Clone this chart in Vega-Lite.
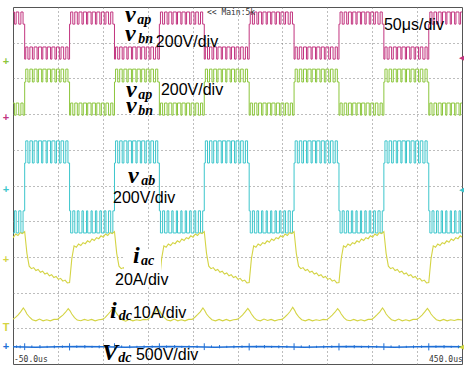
{
"$schema":"https://vega.github.io/schema/vega-lite/v6.json",
"width":449,"height":357,
"autosize":{"type":"none"},
"padding":{"left":13,"top":7,"right":2,"bottom":5},
"background":"white",
"config":{"view":{"stroke":"#555555","strokeWidth":1},"axis":{"labels":false,"ticks":false,"domain":false,"title":null,"grid":true,"gridColor":"#7a7a7a","gridDash":[1,3],"gridWidth":1}},
"datasets":{
"sq":[
{"t":-51.6,"k":"A1"},{"t":-48.4,"k":"A0"},{"t":-46.5,"k":"A1"},{"t":-43.6,"k":"A0"},{"t":-41.2,"k":"A1"},{"t":-38.8,"k":"A0"},
{"t":-37,"k":"B0"},{"t":-35.8,"k":"B1"},{"t":-33.4,"k":"B0"},{"t":-31.2,"k":"B1"},{"t":-28.4,"k":"B0"},{"t":-26.5,"k":"B1"},{"t":-23.2,"k":"B0"},{"t":-21.7,"k":"B1"},{"t":-18.1,"k":"B0"},{"t":-16.8,"k":"B1"},{"t":-13.1,"k":"B0"},{"t":-11.8,"k":"B1"},{"t":-8.2,"k":"B0"},{"t":-6.7,"k":"B1"},{"t":-3.3,"k":"B0"},{"t":-1.6,"k":"B1"},{"t":1.6,"k":"B0"},{"t":3.5,"k":"B1"},{"t":6.4,"k":"B0"},{"t":8.8,"k":"B1"},{"t":11.2,"k":"B0"},
{"t":13,"k":"A0"},{"t":14.2,"k":"A1"},{"t":16.6,"k":"A0"},{"t":18.8,"k":"A1"},{"t":21.6,"k":"A0"},{"t":23.5,"k":"A1"},{"t":26.8,"k":"A0"},{"t":28.3,"k":"A1"},{"t":31.9,"k":"A0"},{"t":33.2,"k":"A1"},{"t":36.9,"k":"A0"},{"t":38.2,"k":"A1"},{"t":41.8,"k":"A0"},{"t":43.3,"k":"A1"},{"t":46.7,"k":"A0"},{"t":48.4,"k":"A1"},{"t":51.6,"k":"A0"},{"t":53.5,"k":"A1"},{"t":56.4,"k":"A0"},{"t":58.8,"k":"A1"},{"t":61.2,"k":"A0"},
{"t":63,"k":"B0"},{"t":64.2,"k":"B1"},{"t":66.6,"k":"B0"},{"t":68.8,"k":"B1"},{"t":71.6,"k":"B0"},{"t":73.5,"k":"B1"},{"t":76.8,"k":"B0"},{"t":78.3,"k":"B1"},{"t":81.9,"k":"B0"},{"t":83.2,"k":"B1"},{"t":86.9,"k":"B0"},{"t":88.2,"k":"B1"},{"t":91.8,"k":"B0"},{"t":93.3,"k":"B1"},{"t":96.7,"k":"B0"},{"t":98.4,"k":"B1"},{"t":101.6,"k":"B0"},{"t":103.5,"k":"B1"},{"t":106.4,"k":"B0"},{"t":108.8,"k":"B1"},{"t":111.2,"k":"B0"},
{"t":113,"k":"A0"},{"t":114.2,"k":"A1"},{"t":116.6,"k":"A0"},{"t":118.8,"k":"A1"},{"t":121.6,"k":"A0"},{"t":123.5,"k":"A1"},{"t":126.8,"k":"A0"},{"t":128.3,"k":"A1"},{"t":131.9,"k":"A0"},{"t":133.2,"k":"A1"},{"t":136.9,"k":"A0"},{"t":138.2,"k":"A1"},{"t":141.8,"k":"A0"},{"t":143.3,"k":"A1"},{"t":146.7,"k":"A0"},{"t":148.4,"k":"A1"},{"t":151.6,"k":"A0"},{"t":153.5,"k":"A1"},{"t":156.4,"k":"A0"},{"t":158.8,"k":"A1"},{"t":161.2,"k":"A0"},
{"t":163,"k":"B0"},{"t":164.2,"k":"B1"},{"t":166.6,"k":"B0"},{"t":168.8,"k":"B1"},{"t":171.6,"k":"B0"},{"t":173.5,"k":"B1"},{"t":176.8,"k":"B0"},{"t":178.3,"k":"B1"},{"t":181.9,"k":"B0"},{"t":183.2,"k":"B1"},{"t":186.9,"k":"B0"},{"t":188.2,"k":"B1"},{"t":191.8,"k":"B0"},{"t":193.3,"k":"B1"},{"t":196.7,"k":"B0"},{"t":198.4,"k":"B1"},{"t":201.6,"k":"B0"},{"t":203.5,"k":"B1"},{"t":206.4,"k":"B0"},{"t":208.8,"k":"B1"},{"t":211.2,"k":"B0"},
{"t":213,"k":"A0"},{"t":214.2,"k":"A1"},{"t":216.6,"k":"A0"},{"t":218.8,"k":"A1"},{"t":221.6,"k":"A0"},{"t":223.5,"k":"A1"},{"t":226.8,"k":"A0"},{"t":228.3,"k":"A1"},{"t":231.9,"k":"A0"},{"t":233.2,"k":"A1"},{"t":236.9,"k":"A0"},{"t":238.2,"k":"A1"},{"t":241.8,"k":"A0"},{"t":243.3,"k":"A1"},{"t":246.7,"k":"A0"},{"t":248.4,"k":"A1"},{"t":251.6,"k":"A0"},{"t":253.5,"k":"A1"},{"t":256.4,"k":"A0"},{"t":258.8,"k":"A1"},{"t":261.2,"k":"A0"},
{"t":263,"k":"B0"},{"t":264.2,"k":"B1"},{"t":266.6,"k":"B0"},{"t":268.8,"k":"B1"},{"t":271.6,"k":"B0"},{"t":273.5,"k":"B1"},{"t":276.8,"k":"B0"},{"t":278.3,"k":"B1"},{"t":281.9,"k":"B0"},{"t":283.2,"k":"B1"},{"t":286.9,"k":"B0"},{"t":288.2,"k":"B1"},{"t":291.8,"k":"B0"},{"t":293.3,"k":"B1"},{"t":296.7,"k":"B0"},{"t":298.4,"k":"B1"},{"t":301.6,"k":"B0"},{"t":303.5,"k":"B1"},{"t":306.4,"k":"B0"},{"t":308.8,"k":"B1"},{"t":311.2,"k":"B0"},
{"t":313,"k":"A0"},{"t":314.2,"k":"A1"},{"t":316.6,"k":"A0"},{"t":318.8,"k":"A1"},{"t":321.6,"k":"A0"},{"t":323.5,"k":"A1"},{"t":326.8,"k":"A0"},{"t":328.3,"k":"A1"},{"t":331.9,"k":"A0"},{"t":333.2,"k":"A1"},{"t":336.9,"k":"A0"},{"t":338.2,"k":"A1"},{"t":341.8,"k":"A0"},{"t":343.3,"k":"A1"},{"t":346.7,"k":"A0"},{"t":348.4,"k":"A1"},{"t":351.6,"k":"A0"},{"t":353.5,"k":"A1"},{"t":356.4,"k":"A0"},{"t":358.8,"k":"A1"},{"t":361.2,"k":"A0"},
{"t":363,"k":"B0"},{"t":364.2,"k":"B1"},{"t":366.6,"k":"B0"},{"t":368.8,"k":"B1"},{"t":371.6,"k":"B0"},{"t":373.5,"k":"B1"},{"t":376.8,"k":"B0"},{"t":378.3,"k":"B1"},{"t":381.9,"k":"B0"},{"t":383.2,"k":"B1"},{"t":386.9,"k":"B0"},{"t":388.2,"k":"B1"},{"t":391.8,"k":"B0"},{"t":393.3,"k":"B1"},{"t":396.7,"k":"B0"},{"t":398.4,"k":"B1"},{"t":401.6,"k":"B0"},{"t":403.5,"k":"B1"},{"t":406.4,"k":"B0"},{"t":408.8,"k":"B1"},{"t":411.2,"k":"B0"},
{"t":413,"k":"A0"},{"t":414.2,"k":"A1"},{"t":416.6,"k":"A0"},{"t":418.8,"k":"A1"},{"t":421.6,"k":"A0"},{"t":423.5,"k":"A1"},{"t":426.8,"k":"A0"},{"t":428.3,"k":"A1"},{"t":431.9,"k":"A0"},{"t":433.2,"k":"A1"},{"t":436.9,"k":"A0"},{"t":438.2,"k":"A1"},{"t":441.8,"k":"A0"},{"t":443.3,"k":"A1"},{"t":446.7,"k":"A0"},{"t":448.4,"k":"A1"},{"t":451.6,"k":"A0"}
],
"iac":[
{"t":-50.5,"v":3.58},{"t":-49.5,"v":3.55},{"t":-47,"v":3.64},{"t":-44.5,"v":3.6},{"t":-42,"v":3.68},{"t":-39.5,"v":3.65},{"t":-37,"v":3.71},
{"t":-34.5,"v":3.1},{"t":-32,"v":2.74},{"t":-29.5,"v":2.67},{"t":-27,"v":2.7},{"t":-24.5,"v":2.62},{"t":-22,"v":2.65},{"t":-19.5,"v":2.57},{"t":-17,"v":2.6},{"t":-14.5,"v":2.52},{"t":-12,"v":2.55},{"t":-9.5,"v":2.47},{"t":-7,"v":2.5},{"t":-4.5,"v":2.42},{"t":-2,"v":2.45},{"t":0.5,"v":2.37},{"t":3,"v":2.4},{"t":5.5,"v":2.32},{"t":8,"v":2.35},{"t":10.5,"v":2.27},{"t":13,"v":2.28},
{"t":15.5,"v":2.95},{"t":18,"v":3.31},{"t":20.5,"v":3.27},{"t":23,"v":3.36},{"t":25.5,"v":3.32},{"t":28,"v":3.4},{"t":30.5,"v":3.37},{"t":33,"v":3.45},{"t":35.5,"v":3.41},{"t":38,"v":3.5},{"t":40.5,"v":3.46},{"t":43,"v":3.54},{"t":45.5,"v":3.51},{"t":48,"v":3.59},{"t":50.5,"v":3.55},{"t":53,"v":3.64},{"t":55.5,"v":3.6},{"t":58,"v":3.68},{"t":60.5,"v":3.65},{"t":63,"v":3.71},
{"t":65.5,"v":3.1},{"t":68,"v":2.74},{"t":70.5,"v":2.67},{"t":73,"v":2.7},{"t":75.5,"v":2.62},{"t":78,"v":2.65},{"t":80.5,"v":2.57},{"t":83,"v":2.6},{"t":85.5,"v":2.52},{"t":88,"v":2.55},{"t":90.5,"v":2.47},{"t":93,"v":2.5},{"t":95.5,"v":2.42},{"t":98,"v":2.45},{"t":100.5,"v":2.37},{"t":103,"v":2.4},{"t":105.5,"v":2.32},{"t":108,"v":2.35},{"t":110.5,"v":2.27},{"t":113,"v":2.28},
{"t":115.5,"v":2.95},{"t":118,"v":3.31},{"t":120.5,"v":3.27},{"t":123,"v":3.36},{"t":125.5,"v":3.32},{"t":128,"v":3.4},{"t":130.5,"v":3.37},{"t":133,"v":3.45},{"t":135.5,"v":3.41},{"t":138,"v":3.5},{"t":140.5,"v":3.46},{"t":143,"v":3.54},{"t":145.5,"v":3.51},{"t":148,"v":3.59},{"t":150.5,"v":3.55},{"t":153,"v":3.64},{"t":155.5,"v":3.6},{"t":158,"v":3.68},{"t":160.5,"v":3.65},{"t":163,"v":3.71},
{"t":165.5,"v":3.1},{"t":168,"v":2.74},{"t":170.5,"v":2.67},{"t":173,"v":2.7},{"t":175.5,"v":2.62},{"t":178,"v":2.65},{"t":180.5,"v":2.57},{"t":183,"v":2.6},{"t":185.5,"v":2.52},{"t":188,"v":2.55},{"t":190.5,"v":2.47},{"t":193,"v":2.5},{"t":195.5,"v":2.42},{"t":198,"v":2.45},{"t":200.5,"v":2.37},{"t":203,"v":2.4},{"t":205.5,"v":2.32},{"t":208,"v":2.35},{"t":210.5,"v":2.27},{"t":213,"v":2.28},
{"t":215.5,"v":2.95},{"t":218,"v":3.31},{"t":220.5,"v":3.27},{"t":223,"v":3.36},{"t":225.5,"v":3.32},{"t":228,"v":3.4},{"t":230.5,"v":3.37},{"t":233,"v":3.45},{"t":235.5,"v":3.41},{"t":238,"v":3.5},{"t":240.5,"v":3.46},{"t":243,"v":3.54},{"t":245.5,"v":3.51},{"t":248,"v":3.59},{"t":250.5,"v":3.55},{"t":253,"v":3.64},{"t":255.5,"v":3.6},{"t":258,"v":3.68},{"t":260.5,"v":3.65},{"t":263,"v":3.71},
{"t":265.5,"v":3.1},{"t":268,"v":2.74},{"t":270.5,"v":2.67},{"t":273,"v":2.7},{"t":275.5,"v":2.62},{"t":278,"v":2.65},{"t":280.5,"v":2.57},{"t":283,"v":2.6},{"t":285.5,"v":2.52},{"t":288,"v":2.55},{"t":290.5,"v":2.47},{"t":293,"v":2.5},{"t":295.5,"v":2.42},{"t":298,"v":2.45},{"t":300.5,"v":2.37},{"t":303,"v":2.4},{"t":305.5,"v":2.32},{"t":308,"v":2.35},{"t":310.5,"v":2.27},{"t":313,"v":2.28},
{"t":315.5,"v":2.95},{"t":318,"v":3.31},{"t":320.5,"v":3.27},{"t":323,"v":3.36},{"t":325.5,"v":3.32},{"t":328,"v":3.4},{"t":330.5,"v":3.37},{"t":333,"v":3.45},{"t":335.5,"v":3.41},{"t":338,"v":3.5},{"t":340.5,"v":3.46},{"t":343,"v":3.54},{"t":345.5,"v":3.51},{"t":348,"v":3.59},{"t":350.5,"v":3.55},{"t":353,"v":3.64},{"t":355.5,"v":3.6},{"t":358,"v":3.68},{"t":360.5,"v":3.65},{"t":363,"v":3.71},
{"t":365.5,"v":3.1},{"t":368,"v":2.74},{"t":370.5,"v":2.67},{"t":373,"v":2.7},{"t":375.5,"v":2.62},{"t":378,"v":2.65},{"t":380.5,"v":2.57},{"t":383,"v":2.6},{"t":385.5,"v":2.52},{"t":388,"v":2.55},{"t":390.5,"v":2.47},{"t":393,"v":2.5},{"t":395.5,"v":2.42},{"t":398,"v":2.45},{"t":400.5,"v":2.37},{"t":403,"v":2.4},{"t":405.5,"v":2.32},{"t":408,"v":2.35},{"t":410.5,"v":2.27},{"t":413,"v":2.28},
{"t":415.5,"v":2.95},{"t":418,"v":3.31},{"t":420.5,"v":3.27},{"t":423,"v":3.36},{"t":425.5,"v":3.32},{"t":428,"v":3.4},{"t":430.5,"v":3.37},{"t":433,"v":3.45},{"t":435.5,"v":3.41},{"t":438,"v":3.5},{"t":440.5,"v":3.46},{"t":443,"v":3.54},{"t":445.5,"v":3.51},{"t":448,"v":3.59},{"t":450.5,"v":3.55}
],
"idc":[
{"t":-50.5,"v":1.25},{"t":-47.5,"v":1.3},{"t":-44.5,"v":1.37},{"t":-41.5,"v":1.46},{"t":-38.5,"v":1.57},{"t":-36.5,"v":1.5},{"t":-34.5,"v":1.4},{"t":-31.5,"v":1.31},{"t":-28.5,"v":1.24},{"t":-24.5,"v":1.21},{"t":-20.5,"v":1.26},{"t":-16.5,"v":1.21},{"t":-12.5,"v":1.24},{"t":-8.5,"v":1.21},{"t":-4.5,"v":1.25},
{"t":-0.5,"v":1.25},{"t":2.5,"v":1.31},{"t":5.5,"v":1.37},{"t":8.5,"v":1.45},{"t":11.5,"v":1.55},{"t":13.5,"v":1.49},{"t":15.5,"v":1.4},{"t":18.5,"v":1.3},{"t":21.5,"v":1.23},{"t":25.5,"v":1.21},{"t":29.5,"v":1.25},{"t":33.5,"v":1.22},{"t":37.5,"v":1.25},{"t":41.5,"v":1.21},{"t":45.5,"v":1.24},
{"t":49.5,"v":1.25},{"t":52.5,"v":1.3},{"t":55.5,"v":1.38},{"t":58.5,"v":1.47},{"t":61.5,"v":1.58},{"t":63.5,"v":1.5},{"t":65.5,"v":1.41},{"t":68.5,"v":1.31},{"t":71.5,"v":1.24},{"t":75.5,"v":1.2},{"t":79.5,"v":1.25},{"t":83.5,"v":1.21},{"t":87.5,"v":1.24},{"t":91.5,"v":1.22},{"t":95.5,"v":1.25},
{"t":99.5,"v":1.24},{"t":102.5,"v":1.3},{"t":105.5,"v":1.36},{"t":108.5,"v":1.45},{"t":111.5,"v":1.54},{"t":113.5,"v":1.48},{"t":115.5,"v":1.39},{"t":118.5,"v":1.3},{"t":121.5,"v":1.23},{"t":125.5,"v":1.21},{"t":129.5,"v":1.26},{"t":133.5,"v":1.21},{"t":137.5,"v":1.24},{"t":141.5,"v":1.21},{"t":145.5,"v":1.25},
{"t":149.5,"v":1.25},{"t":152.5,"v":1.31},{"t":155.5,"v":1.38},{"t":158.5,"v":1.46},{"t":161.5,"v":1.57},{"t":163.5,"v":1.5},{"t":165.5,"v":1.4},{"t":168.5,"v":1.31},{"t":171.5,"v":1.24},{"t":175.5,"v":1.21},{"t":179.5,"v":1.25},{"t":183.5,"v":1.21},{"t":187.5,"v":1.25},{"t":191.5,"v":1.21},{"t":195.5,"v":1.24},
{"t":199.5,"v":1.25},{"t":202.5,"v":1.3},{"t":205.5,"v":1.37},{"t":208.5,"v":1.46},{"t":211.5,"v":1.56},{"t":213.5,"v":1.49},{"t":215.5,"v":1.4},{"t":218.5,"v":1.3},{"t":221.5,"v":1.23},{"t":225.5,"v":1.21},{"t":229.5,"v":1.26},{"t":233.5,"v":1.22},{"t":237.5,"v":1.25},{"t":241.5,"v":1.21},{"t":245.5,"v":1.24},
{"t":249.5,"v":1.25},{"t":252.5,"v":1.31},{"t":255.5,"v":1.38},{"t":258.5,"v":1.47},{"t":261.5,"v":1.59},{"t":263.5,"v":1.51},{"t":265.5,"v":1.41},{"t":268.5,"v":1.31},{"t":271.5,"v":1.24},{"t":275.5,"v":1.21},{"t":279.5,"v":1.25},{"t":283.5,"v":1.21},{"t":287.5,"v":1.24},{"t":291.5,"v":1.22},{"t":295.5,"v":1.25},
{"t":299.5,"v":1.24},{"t":302.5,"v":1.3},{"t":305.5,"v":1.37},{"t":308.5,"v":1.45},{"t":311.5,"v":1.55},{"t":313.5,"v":1.49},{"t":315.5,"v":1.4},{"t":318.5,"v":1.3},{"t":321.5,"v":1.23},{"t":325.5,"v":1.21},{"t":329.5,"v":1.25},{"t":333.5,"v":1.21},{"t":337.5,"v":1.24},{"t":341.5,"v":1.21},{"t":345.5,"v":1.25},
{"t":349.5,"v":1.25},{"t":352.5,"v":1.31},{"t":355.5,"v":1.38},{"t":358.5,"v":1.46},{"t":361.5,"v":1.57},{"t":363.5,"v":1.5},{"t":365.5,"v":1.4},{"t":368.5,"v":1.31},{"t":371.5,"v":1.24},{"t":375.5,"v":1.21},{"t":379.5,"v":1.26},{"t":383.5,"v":1.21},{"t":387.5,"v":1.24},{"t":391.5,"v":1.21},{"t":395.5,"v":1.25},
{"t":399.5,"v":1.25},{"t":402.5,"v":1.3},{"t":405.5,"v":1.37},{"t":408.5,"v":1.46},{"t":411.5,"v":1.56},{"t":413.5,"v":1.49},{"t":415.5,"v":1.4},{"t":418.5,"v":1.31},{"t":421.5,"v":1.24},{"t":425.5,"v":1.21},{"t":429.5,"v":1.25},{"t":433.5,"v":1.21},{"t":437.5,"v":1.24},{"t":441.5,"v":1.22},{"t":445.5,"v":1.25},{"t":450.5,"v":1.23}
],
"vdc":[
{"t":-50.5,"v":0.48},{"t":-25,"v":0.47},{"t":0,"v":0.48},{"t":25,"v":0.49},{"t":50,"v":0.48},{"t":75,"v":0.47},{"t":100,"v":0.48},{"t":125,"v":0.49},{"t":150,"v":0.48},{"t":175,"v":0.47},{"t":200,"v":0.48},{"t":225,"v":0.49},{"t":250,"v":0.48},{"t":275,"v":0.47},{"t":300,"v":0.48},{"t":325,"v":0.49},{"t":350,"v":0.48},{"t":375,"v":0.47},{"t":400,"v":0.48},{"t":425,"v":0.49},{"t":450.5,"v":0.48}
],
"spk":[
{"t":-46,"lo":0.45,"hi":0.52},{"t":-42,"lo":0.44,"hi":0.52},
{"t":-37,"lo":0.39,"hi":0.58},{"t":-29,"lo":0.45,"hi":0.52},{"t":-20,"lo":0.44,"hi":0.53},{"t":-12,"lo":0.45,"hi":0.51},{"t":-4,"lo":0.44,"hi":0.52},{"t":5,"lo":0.45,"hi":0.52},
{"t":13,"lo":0.38,"hi":0.58},{"t":21,"lo":0.45,"hi":0.52},{"t":30,"lo":0.44,"hi":0.53},{"t":38,"lo":0.45,"hi":0.51},{"t":46,"lo":0.44,"hi":0.52},{"t":55,"lo":0.45,"hi":0.52},
{"t":63,"lo":0.39,"hi":0.58},{"t":71,"lo":0.45,"hi":0.52},{"t":80,"lo":0.44,"hi":0.53},{"t":88,"lo":0.45,"hi":0.51},{"t":96,"lo":0.44,"hi":0.52},{"t":105,"lo":0.45,"hi":0.52},
{"t":113,"lo":0.38,"hi":0.58},{"t":121,"lo":0.45,"hi":0.52},{"t":130,"lo":0.44,"hi":0.53},{"t":138,"lo":0.45,"hi":0.51},{"t":146,"lo":0.44,"hi":0.52},{"t":155,"lo":0.45,"hi":0.52},
{"t":163,"lo":0.39,"hi":0.58},{"t":171,"lo":0.45,"hi":0.52},{"t":180,"lo":0.44,"hi":0.53},{"t":188,"lo":0.45,"hi":0.51},{"t":196,"lo":0.44,"hi":0.52},{"t":205,"lo":0.45,"hi":0.52},
{"t":213,"lo":0.38,"hi":0.58},{"t":221,"lo":0.45,"hi":0.52},{"t":230,"lo":0.44,"hi":0.53},{"t":238,"lo":0.45,"hi":0.51},{"t":246,"lo":0.44,"hi":0.52},{"t":255,"lo":0.45,"hi":0.52},
{"t":263,"lo":0.39,"hi":0.58},{"t":271,"lo":0.45,"hi":0.52},{"t":280,"lo":0.44,"hi":0.53},{"t":288,"lo":0.45,"hi":0.51},{"t":296,"lo":0.44,"hi":0.52},{"t":305,"lo":0.45,"hi":0.52},
{"t":313,"lo":0.38,"hi":0.58},{"t":321,"lo":0.45,"hi":0.52},{"t":330,"lo":0.44,"hi":0.53},{"t":338,"lo":0.45,"hi":0.51},{"t":346,"lo":0.44,"hi":0.52},{"t":355,"lo":0.45,"hi":0.52},
{"t":363,"lo":0.39,"hi":0.58},{"t":371,"lo":0.45,"hi":0.52},{"t":380,"lo":0.44,"hi":0.53},{"t":388,"lo":0.45,"hi":0.51},{"t":396,"lo":0.44,"hi":0.52},{"t":405,"lo":0.45,"hi":0.52},
{"t":413,"lo":0.38,"hi":0.58},{"t":421,"lo":0.45,"hi":0.52},{"t":430,"lo":0.44,"hi":0.53},{"t":438,"lo":0.45,"hi":0.51},{"t":446,"lo":0.44,"hi":0.52}
],
"big":[
{"t":74.7,"v":9.58,"s":"v"},{"t":74.7,"v":9.06,"s":"v"},{"t":75.8,"v":7.48,"s":"v"},{"t":75.8,"v":7.03,"s":"v"},{"t":78.1,"v":5.07,"s":"v"},{"t":83.6,"v":2.83,"s":"i"},{"t":58.0,"v":1.29,"s":"i"},{"t":49.1,"v":0.11,"s":"V"}
],
"sub":[
{"t":88.5,"v":9.52,"s":"ap"},{"t":89.6,"v":9.0,"s":"bn"},{"t":89.6,"v":7.42,"s":"ap"},{"t":89.6,"v":6.97,"s":"bn"},{"t":92.9,"v":5.01,"s":"ab"},{"t":92.4,"v":2.77,"s":"ac"},{"t":67.9,"v":1.23,"s":"dc"},{"t":67.3,"v":0.06,"s":"dc"}
],
"unit":[
{"t":109.1,"v":8.88,"s":"200V/div"},{"t":363.1,"v":9.36,"s":"50μs/div"},{"t":114.7,"v":7.54,"s":"200V/div"},{"t":61.4,"v":4.51,"s":"200V/div"},{"t":63.6,"v":2.21,"s":"20A/div"},{"t":83.5,"v":1.29,"s":"10A/div"},{"t":86.9,"v":0.11,"s":"500V/div"}
],
"small":[
{"t":-48.9,"v":0.06,"s":"-50.0us"},{"t":413.3,"v":0.06,"s":"450.0us"},{"t":166,"v":9.78,"s":"<< Main:5k"}
],
"lmk":[
{"t":-50,"v":8.46,"ch":"g","s":"+"},{"t":-50,"v":6.89,"ch":"m","s":"+"},{"t":-50,"v":4.87,"ch":"c","s":"+"},{"t":-50,"v":2.91,"ch":"y","s":"+"},{"t":-50,"v":1.01,"ch":"y","s":"T"},{"t":-50,"v":0.48,"ch":"b","s":"+"}
],
"rmk":[
{"t":450,"v":8.57,"ch":"m","s":"◀"},{"t":450,"v":4.87,"ch":"c","s":"◀"},{"t":450,"v":0.48,"ch":"y","s":"◀"}
],
"box":[
{"t":73.6,"t2":114.8,"v":2.15,"v2":3.2}
]
},
"encoding":{
"x":{"field":"t","type":"quantitative","scale":{"domain":[-50,450],"nice":false,"zero":false},"axis":{"values":[0,50,100,150,200,250,300,350,400]}},
"y":{"field":"v","type":"quantitative","scale":{"domain":[0,10],"nice":false,"zero":false},"axis":{"values":[1,2,3,4,5,6,7,8,9]}}
},
"layer":[
{"data":{"name":"sq"},
 "transform":[
  {"lookup":"k","from":{"data":{"values":[
   {"k":"A0","m":9.52,"g":6.97,"c":4.29},
   {"k":"A1","m":9.86,"g":7.31,"c":3.67},
   {"k":"B0","m":8.54,"g":7.9,"c":5.63},
   {"k":"B1","m":8.88,"g":8.26,"c":6.25}]},"key":"k","fields":["m","g","c"]}},
  {"fold":["m","g","c"],"as":["ch","v"]}],
 "mark":{"type":"line","interpolate":"step-after","strokeWidth":1,"clip":true},
 "encoding":{"color":{"field":"ch","type":"nominal","scale":{"domain":["m","g","c","y","b"],"range":["#c2347f","#8cc63c","#3cc6cc","#d4d444","#1f6fd6"]},"legend":null}}},
{"data":{"name":"iac"},"mark":{"type":"line","strokeWidth":1.1,"clip":true,"color":"#d4d444"}},
{"data":{"name":"idc"},"mark":{"type":"line","strokeWidth":1.1,"clip":true,"color":"#d4d444"}},
{"data":{"name":"vdc"},"mark":{"type":"line","strokeWidth":1.5,"clip":true,"color":"#1f6fd6"}},
{"data":{"name":"spk"},"mark":{"type":"rule","strokeWidth":1,"clip":true,"color":"#1f6fd6"},
 "encoding":{"y":{"field":"lo","type":"quantitative"},"y2":{"field":"hi"}}},
{"data":{"name":"box"},"mark":{"type":"rect","color":"white"},
 "encoding":{"x2":{"field":"t2"},"y2":{"field":"v2"}}},
{"data":{"name":"big"},"mark":{"type":"text","font":"Liberation Serif","fontWeight":"bold","fontStyle":"italic","fontSize":24,"align":"left","baseline":"alphabetic","color":"black"},
 "encoding":{"text":{"field":"s"}}},
{"data":{"name":"sub"},"mark":{"type":"text","font":"Liberation Serif","fontWeight":"bold","fontStyle":"italic","fontSize":14,"align":"left","baseline":"alphabetic","color":"black"},
 "encoding":{"text":{"field":"s"}}},
{"data":{"name":"unit"},"mark":{"type":"text","font":"Liberation Sans","fontSize":16,"align":"left","baseline":"alphabetic","color":"black"},
 "encoding":{"text":{"field":"s"}}},
{"data":{"name":"small"},"mark":{"type":"text","font":"DejaVu Sans Mono","fontSize":8,"align":"left","baseline":"alphabetic","color":"#333333"},
 "encoding":{"text":{"field":"s"}}},
{"data":{"name":"lmk"},"mark":{"type":"text","fontSize":11,"fontWeight":"bold","align":"center","baseline":"middle","dx":-7},
 "encoding":{"text":{"field":"s"},"color":{"field":"ch","type":"nominal","legend":null}}},
{"data":{"name":"rmk"},"mark":{"type":"text","fontSize":7,"align":"right","baseline":"middle","dx":2},
 "encoding":{"text":{"field":"s"},"color":{"field":"ch","type":"nominal","legend":null}}},
{"mark":{"type":"text","text":"▼","fontSize":7,"color":"#444444","baseline":"top","dy":-1},
 "encoding":{"x":{"datum":0},"y":{"datum":10}}}
]
}
